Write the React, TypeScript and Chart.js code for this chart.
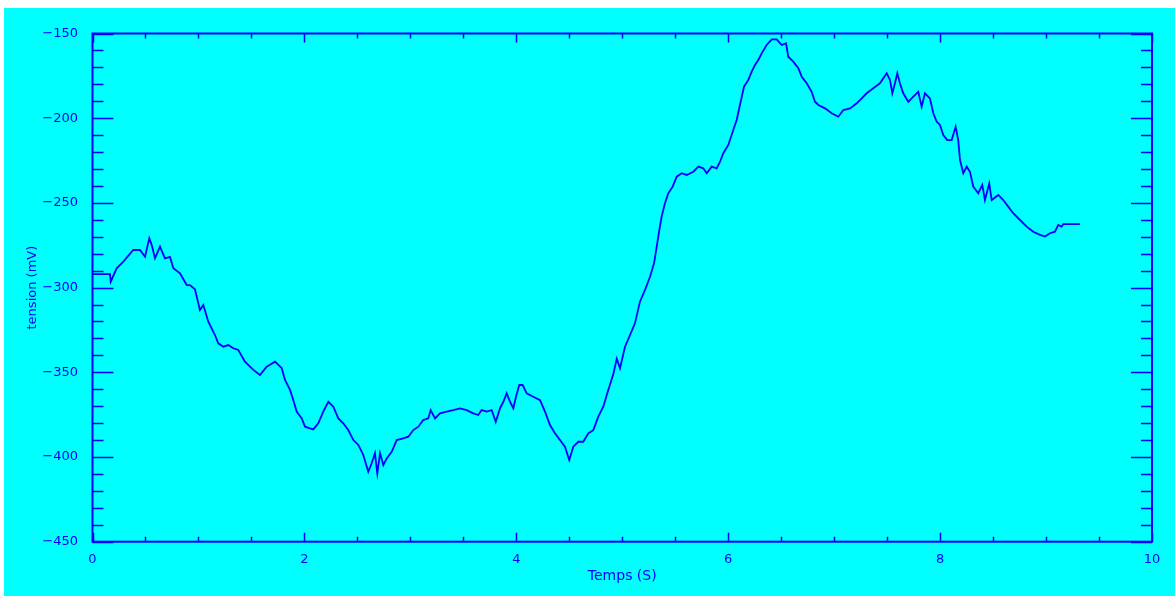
import React, { useEffect, useRef } from "react";
import { Chart, registerables } from "chart.js";

Chart.register(...registerables);

const timeValues: number[] = [
  0, 0.165, 0.172, 0.228, 0.291, 0.385, 0.448, 0.496, 0.536, 0.559, 0.59, 0.637, 0.684, 0.731, 0.763, 0.826,
  0.889, 0.92, 0.967, 1.014, 1.046, 1.093, 1.156, 1.187, 1.235, 1.282, 1.329, 1.376, 1.439, 1.518, 1.581, 1.644,
  1.723, 1.786, 1.817, 1.864, 1.895, 1.927, 1.975, 2.006, 2.053, 2.084, 2.131, 2.178, 2.226, 2.273, 2.32, 2.367,
  2.414, 2.462, 2.509, 2.556, 2.603, 2.635, 2.666, 2.688, 2.714, 2.745, 2.777, 2.824, 2.871, 2.933, 2.981, 3.028,
  3.075, 3.122, 3.169, 3.192, 3.233, 3.28, 3.343, 3.405, 3.469, 3.532, 3.594, 3.641, 3.673, 3.721, 3.768, 3.806,
  3.846, 3.878, 3.909, 3.941, 3.972, 3.997, 4.028, 4.06, 4.098, 4.16, 4.224, 4.271, 4.318, 4.365, 4.412, 4.459,
  4.5, 4.538, 4.585, 4.632, 4.68, 4.727, 4.774, 4.821, 4.868, 4.916, 4.948, 4.979, 5.026, 5.073, 5.12, 5.167,
  5.215, 5.262, 5.3, 5.325, 5.35, 5.372, 5.403, 5.435, 5.476, 5.514, 5.561, 5.608, 5.671, 5.718, 5.765, 5.797,
  5.844, 5.891, 5.923, 5.954, 6.001, 6.048, 6.08, 6.111, 6.149, 6.19, 6.222, 6.253, 6.284, 6.316, 6.363, 6.411,
  6.458, 6.505, 6.546, 6.567, 6.614, 6.662, 6.694, 6.741, 6.788, 6.819, 6.851, 6.914, 6.977, 7.039, 7.087, 7.15,
  7.213, 7.244, 7.307, 7.369, 7.432, 7.496, 7.527, 7.549, 7.574, 7.596, 7.621, 7.652, 7.7, 7.747, 7.794, 7.826,
  7.857, 7.904, 7.936, 7.968, 7.999, 8.03, 8.068, 8.109, 8.147, 8.171, 8.188, 8.219, 8.251, 8.282, 8.313, 8.36,
  8.398, 8.423, 8.464, 8.487, 8.549, 8.596, 8.643, 8.69, 8.754, 8.817, 8.879, 8.943, 8.99, 9.037, 9.084, 9.115,
  9.147, 9.163, 9.32,
];

const tensionValues: number[] = [
  -292.1, -292.1, -296.5, -288.6, -284.7, -277.8, -277.8, -281.8, -270.9, -274.9, -282.7, -275.8, -282.7, -281.8, -288.6, -291.6,
  -298.5, -298.5, -301.0, -313.2, -310.3, -320.1, -328.0, -332.9, -334.9, -333.9, -335.8, -336.8, -343.7, -348.6, -351.6, -346.7,
  -343.7, -347.6, -354.5, -360.4, -366.3, -373.2, -377.2, -382.1, -383.1, -383.7, -380.1, -373.2, -367.4, -370.3, -377.2, -380.1,
  -384.1, -390.0, -392.9, -398.8, -408.7, -403.7, -397.8, -409.6, -397.8, -404.7, -400.8, -396.9, -390.0, -389.0, -388.0, -384.1,
  -382.1, -378.2, -377.2, -372.3, -377.2, -374.2, -373.2, -372.3, -371.3, -372.3, -374.2, -375.2, -372.3, -373.2, -372.3, -379.2,
  -371.3, -367.4, -362.4, -367.4, -371.3, -364.4, -357.5, -357.5, -362.4, -364.4, -366.4, -373.2, -381.1, -386.0, -390.0, -393.9,
  -401.8, -393.9, -391.0, -391.0, -386.0, -384.1, -376.2, -370.3, -360.4, -351.0, -342.0, -347.6, -334.9, -328.0, -321.1, -308.3,
  -301.4, -293.6, -285.7, -275.9, -266.0, -258.1, -250.2, -244.3, -240.4, -234.5, -232.5, -233.5, -231.6, -228.6, -229.6, -232.5,
  -228.6, -229.6, -225.7, -220.7, -215.8, -207.0, -201.1, -192.2, -181.4, -177.4, -172.5, -168.6, -165.6, -161.7, -156.8, -153.5,
  -153.5, -156.8, -155.8, -163.7, -166.6, -170.5, -175.5, -179.4, -184.4, -190.3, -192.2, -194.2, -197.1, -199.1, -195.2, -194.2,
  -191.2, -189.3, -185.3, -182.3, -179.4, -173.5, -177.4, -185.3, -179.4, -173.5, -179.4, -185.3, -190.3, -187.3, -184.4, -193.2,
  -185.3, -188.3, -197.1, -202.1, -204.0, -209.9, -212.9, -212.9, -205.0, -212.9, -224.7, -232.5, -228.6, -231.6, -240.4, -244.3,
  -239.4, -248.3, -238.5, -248.3, -245.3, -248.3, -252.2, -256.1, -260.1, -264.0, -267.0, -268.9, -269.9, -267.9, -267.0, -263.0,
  -264.0, -262.5, -262.5,
];

const xTickValues: number[] = [0, 2, 4, 6, 8, 10];
const yTickValues: number[] = [-450, -400, -350, -300, -250, -200, -150];
const xMinorStep = 0.5;
const yMinorStep = 10;

const BLUE = "#0000ff";
const FONT = "DejaVu Sans";

const framePlugin = {
  id: "frameTicks",
  beforeDatasetsDraw(chart: any) {
    const { ctx, chartArea } = chart;
    const { left, right, top, bottom } = chartArea;
    const xs = chart.scales.x;
    const ys = chart.scales.y;
    ctx.save();
    ctx.strokeStyle = BLUE;
    ctx.lineWidth = 2;
    ctx.strokeRect(left, top, right - left, bottom - top);
    ctx.lineWidth = 1.5;
    ctx.beginPath();
    const xMin = xTickValues[0];
    const xMax = xTickValues[xTickValues.length - 1];
    for (let v = xMin; v <= xMax + 1e-9; v += xMinorStep) {
      const major = xTickValues.some((t) => Math.abs(t - v) < 1e-6);
      const len = major ? 9 : 5;
      const px = Math.round(xs.getPixelForValue(v)) + 0.5;
      ctx.moveTo(px, bottom);
      ctx.lineTo(px, bottom - len);
      ctx.moveTo(px, top);
      ctx.lineTo(px, top + len);
    }
    const yMin = yTickValues[0];
    const yMax = yTickValues[yTickValues.length - 1];
    for (let v = yMin; v <= yMax + 1e-9; v += yMinorStep) {
      const major = yTickValues.some((t) => Math.abs(t - v) < 1e-6);
      const len = major ? 21 : 11;
      const py = Math.round(ys.getPixelForValue(v)) + 0.5;
      ctx.moveTo(left, py);
      ctx.lineTo(left + len, py);
      ctx.moveTo(right, py);
      ctx.lineTo(right - len, py);
    }
    ctx.stroke();
    ctx.restore();
  },
};

export default function App() {
  const canvasRef = useRef<HTMLCanvasElement | null>(null);

  useEffect(() => {
    if (!canvasRef.current) return;
    const chart = new Chart(canvasRef.current, {
      type: "line",
      data: {
        labels: timeValues,
        datasets: [
          {
            data: timeValues.map((t, i) => ({ x: t, y: tensionValues[i] })),
            borderColor: BLUE,
            borderWidth: 1.8,
            pointRadius: 0,
            tension: 0,
            fill: false,
          },
        ],
      },
      options: {
        animation: false,
        responsive: true,
        maintainAspectRatio: false,
        devicePixelRatio: 1,
        layout: { padding: { top: 25.5, right: 23, bottom: 0, left: 0 } },
        plugins: { legend: { display: false }, tooltip: { enabled: false } },
        scales: {
          x: {
            type: "linear",
            min: 0,
            max: 10,
            afterBuildTicks: (s: any) => {
              s.ticks = xTickValues.map((v) => ({ value: v }));
            },
            afterFit: (s: any) => {
              s.height = 54.3;
            },
            grid: { display: false },
            border: { display: false },
            ticks: {
              color: BLUE,
              font: { family: FONT, size: 13 },
              padding: 2,
              maxRotation: 0,
              autoSkip: false,
            },
            title: {
              display: true,
              text: "Temps (S)",
              color: BLUE,
              font: { family: FONT, size: 14 },
              padding: { top: 0, bottom: 11 },
            },
          },
          y: {
            type: "linear",
            min: -450,
            max: -150,
            afterBuildTicks: (s: any) => {
              s.ticks = yTickValues.map((v) => ({ value: v }));
            },
            afterFit: (s: any) => {
              s.width = 88.5;
            },
            grid: { display: false },
            border: { display: false },
            ticks: {
              color: BLUE,
              font: { family: FONT, size: 13 },
              padding: 6.5,
              autoSkip: false,
              callback: (v: any) => String(v).replace("-", "\u2212"),
            },
            title: {
              display: true,
              text: "tension (mV)",
              color: BLUE,
              font: { family: FONT, size: 13 },
              padding: { top: 21, bottom: 0 },
            },
          },
        },
      },
      plugins: [framePlugin],
    } as any);
    return () => chart.destroy();
  }, []);

  return (
    <div
      style={{
        position: "absolute",
        left: 4,
        top: 8,
        width: 1171,
        height: 588,
        background: "#00ffff",
      }}
    >
      <canvas ref={canvasRef} />
    </div>
  );
}
